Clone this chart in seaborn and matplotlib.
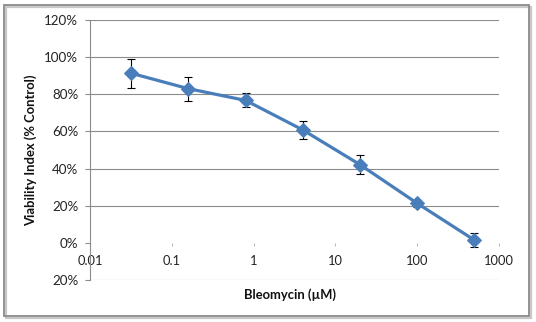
import matplotlib
matplotlib.use("Agg")
import matplotlib.pyplot as plt
import matplotlib.patches as mpatches
import seaborn as sns
import pandas as pd

# Bleomycin dose-response (viability as fraction of control)
conc_um = [0.032, 0.16, 0.8, 4, 20, 100, 500]
viability = [0.913, 0.830, 0.767, 0.608, 0.421, 0.213, 0.015]
viability_err = [0.078, 0.064, 0.038, 0.049, 0.050, 0.020, 0.036]

x_ticks = [0.01, 0.1, 1, 10, 100, 1000]
x_tick_labels = ["0.01", "0.1", "1", "10", "100", "1000"]
y_ticks = [-0.2, 0.0, 0.2, 0.4, 0.6, 0.8, 1.0, 1.2]
y_tick_labels = ["20%", "0%", "20%", "40%", "60%", "80%", "100%", "120%"]

sns.set_theme(style="white")
plt.rcParams["font.family"] = ["Lato", "DejaVu Sans"]

W, H = 536, 322
fig = plt.figure(figsize=(W / 100, H / 100), dpi=100)
ax = fig.add_axes([90 / W, 1 - 280 / H, 409 / W, 260 / H])

df = pd.DataFrame({"conc": conc_um, "viability": viability, "err": viability_err})

blue = "#4A7EBB"
grid_col = "#8C8C8C"

ax.errorbar(df["conc"], df["viability"], yerr=df["err"], fmt="none",
            ecolor="black", elinewidth=0.8, capsize=2.6, capthick=0.8, zorder=2)
sns.lineplot(data=df, x="conc", y="viability", ax=ax, color=blue,
             linewidth=2.3, marker="D", markersize=7.5,
             markeredgecolor=blue, markerfacecolor=blue, zorder=3)

ax.set_xscale("log")
ax.set_xlim(0.01, 1000)
ax.set_ylim(-0.2, 1.2)

ax.set_yticks(y_ticks)
ax.set_yticklabels(y_tick_labels)
ax.set_xticks(x_ticks)
ax.set_xticklabels(x_tick_labels)
ax.xaxis.set_minor_locator(matplotlib.ticker.NullLocator())

# horizontal gridlines, none along the zero crossing
for y in y_ticks:
    if y != 0.0:
        ax.axhline(y, color=grid_col, linewidth=0.8, zorder=1)

for side in ["top", "right"]:
    ax.spines[side].set_visible(False)
ax.spines["left"].set_color(grid_col)
ax.spines["left"].set_linewidth(0.8)
ax.spines["bottom"].set_position(("data", 0))
ax.spines["bottom"].set_color("none")

ax.tick_params(axis="y", direction="out", length=3.5, width=0.8,
               color=grid_col, labelsize=9.6, labelcolor="#222222", pad=5, left=True)
ax.tick_params(axis="x", direction="out", length=2.5, width=0.8,
               color="#BBBBBB", labelsize=9.3, labelcolor="#222222", pad=6.5, bottom=True)

ax.set_xlabel("Bleomycin (µM)", fontsize=9.4, fontweight="bold", color="#111111")
ax.xaxis.set_label_coords(0.488, -0.033)
ax.set_ylabel("Viability Index (% Control)", fontsize=9.4, fontweight="bold", color="#111111")
ax.yaxis.set_label_coords(-0.129, 0.5)

# chart frame with a soft drop shadow on the right and bottom
shadow = mpatches.Rectangle((5.5 / W, (H - 317.5) / H), 525 / W, 311 / H,
                            transform=fig.transFigure, fill=False,
                            edgecolor="#C8C8C8", linewidth=1.6, zorder=0)
frame = mpatches.Rectangle((3.5 / W, (H - 315.5) / H), 525 / W, 311 / H,
                           transform=fig.transFigure, fill=False,
                           edgecolor="#8A8A8A", linewidth=1.3, zorder=1)
fig.patches.extend([shadow, frame])

fig.savefig("out.png", dpi=100)
